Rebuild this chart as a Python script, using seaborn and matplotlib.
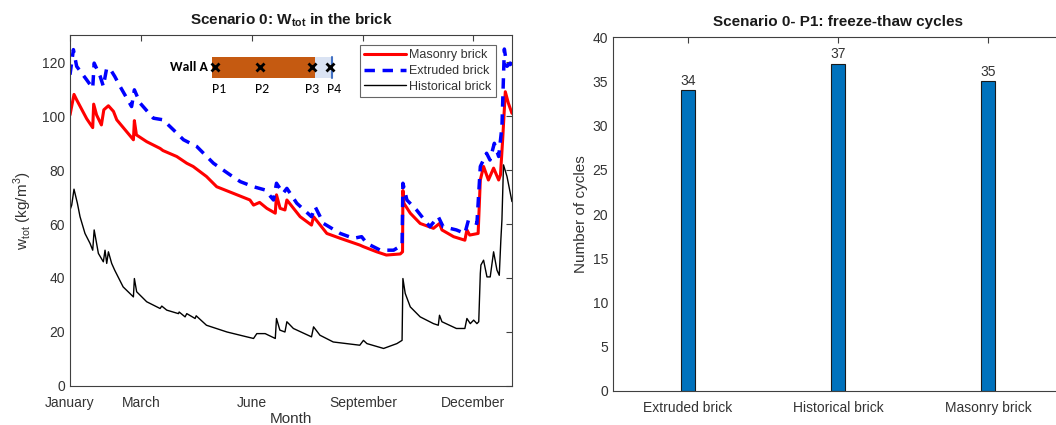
import matplotlib
matplotlib.use("Agg")
import matplotlib.pyplot as plt
import numpy as np
import pandas as pd
import seaborn as sns
from matplotlib.patches import Rectangle
from matplotlib.lines import Line2D

sns.set_theme(style="white")
plt.rcParams["font.family"] = ["Liberation Sans", "DejaVu Sans"]
plt.rcParams["mathtext.fontset"] = "custom"
plt.rcParams["mathtext.rm"] = "Liberation Sans"
plt.rcParams["mathtext.bf"] = "Liberation Sans:bold"

# ---- total moisture content through the year (day of year, kg/m3) ----
masonry_day = [0, 3.3, 5.5, 13.8, 18.8, 19.6, 22, 26, 28, 31.8, 36, 38.7, 52.5, 53.3, 55,
               63.5, 74.6, 77, 88.4, 96.7, 102, 113, 121.5, 135, 149, 152, 157, 163, 170,
               171, 174, 178, 179.6, 190.6, 200, 201.7, 212.7, 223.8, 240, 243, 254, 262,
               273.5, 275.4, 275.7, 276.5, 281.8, 290, 301, 306, 308, 317.7, 327, 328.7,
               331, 338, 339.8, 342.5, 346.5, 350.8, 355, 356.5, 358.3, 360.5, 363, 366]
masonry_val = [100.4, 108, 106, 99, 95.7, 104.4, 100.4, 96.7, 102.3, 103.8, 101.7, 98.6, 91.2,
               98.3, 93, 90.5, 88, 87.2, 85, 82.5, 81.3, 77.6, 73.8, 71.4, 68.9, 67, 68, 65.8,
               64, 70.8, 65.8, 65.2, 68.9, 62.7, 59.6, 62.7, 56.5, 54.7, 52.2, 51.6, 49.7, 48.5,
               48.9, 49.7, 72.4, 67.7, 64, 60.2, 58.4, 60.2, 57.8, 55.3, 54, 57.8, 55.9, 56.5,
               76.3, 81.3, 76.3, 80.7, 76.3, 78.2, 91.2, 109, 104.8, 101]

extruded_day = [0, 2.8, 5.5, 13.8, 18.8, 20, 25, 27.6, 30.4, 34.5, 37, 41.4, 51, 53.3, 58,
                69, 77, 85.6, 94, 105, 118.8, 132.6, 141, 152, 161.6, 168.5, 171, 176.5,
                179.6, 187.8, 200, 203, 210, 223.8, 234.8, 241.5, 245.9, 257, 268, 275,
                275.7, 279, 287, 298, 305, 309, 320, 327, 330, 337, 339.8, 345, 347.8,
                351.4, 355, 357.7, 359.7, 361.9, 364.6, 366]
extruded_val = [115.3, 124.6, 118.4, 113.4, 110.3, 119.6, 114.7, 111, 117.8, 116.5, 114.7,
                111, 103.5, 109.7, 104.8, 99.2, 98.6, 94.9, 91.2, 88.7, 82.5, 78.2, 75.7,
                73.8, 72.6, 68.9, 75.1, 71.4, 73.2, 67.7, 62.7, 66.4, 60.2, 56.5, 54.7, 55.3,
                52.8, 50.3, 50.3, 52.2, 75.1, 68.9, 65.2, 59, 62.7, 59, 57.8, 56.5, 61.5,
                60.2, 81.3, 86.2, 83.7, 89.9, 85, 96, 124.8, 118.4, 119.6, 118.4]

historical_day = [0, 1.4, 3.3, 6.1, 8.3, 12.4, 16.6, 18.8, 20, 23.5, 27.6, 29, 30.4, 31.8,
                  34.5, 37, 44, 52.5, 53.3, 55.2, 63.5, 74.6, 76, 80.1, 89.8, 90.4, 95.3,
                  96.7, 103.6, 104.5, 113, 130, 146.4, 152, 154.7, 161.6, 170, 171, 173.8,
                  178, 179.6, 185, 200, 201.7, 207, 218, 240, 243, 245.9, 259.7, 270.7, 275,
                  275.7, 277.6, 281.8, 290, 301, 305, 306, 308, 320, 327, 328.7, 331.5, 334.3,
                  337, 338.5, 339.8, 340.3, 342.5, 345.3, 348, 350.8, 353.6, 355.5, 356.8,
                  357.7, 359, 361.9, 366]
historical_val = [65.2, 67, 72.9, 67.7, 62.7, 56.5, 52.8, 50.3, 57.8, 49.1, 46, 50.3, 45.4,
                  49.7, 45.4, 42.9, 36.7, 33, 39.8, 34.9, 31.2, 28.7, 29.6, 28.1, 26.8, 27.4,
                  25.6, 26.8, 25, 26, 22.5, 20, 18.2, 17.6, 19.4, 19.4, 17.6, 25, 20.7, 20,
                  23.8, 21.3, 18.2, 21.9, 18.8, 16.3, 15.1, 16.9, 15.7, 13.9, 15.7, 16.9, 39.8,
                  34.3, 29.3, 25.6, 23.1, 22.5, 26.2, 23.8, 21.3, 21.3, 25, 23.1, 24.4, 23.1,
                  23.8, 41.7, 44.8, 46.6, 40.4, 40.4, 49.7, 42.9, 41, 54, 61.5, 81.9, 77.6, 68.3]

month_ticks = [0, 59, 151, 243, 334]
month_labels = ["January", "March", "June", "September", "December"]

# ---- freeze-thaw cycle counts at P1 ----
brick_types = ["Extruded brick", "Historical brick", "Masonry brick"]
cycles = [34, 37, 35]

TXT = "#333333"
SPINE = "#404040"

fig = plt.figure(figsize=(10.56, 4.25), dpi=100)
ax1 = fig.add_axes([0.0663, 0.0918, 0.4185, 0.8258])
ax2 = fig.add_axes([0.5805, 0.0800, 0.4261, 0.8329])


def matlab_box(ax):
    for s in ax.spines.values():
        s.set_visible(True)
        s.set_color(SPINE)
        s.set_linewidth(0.8)
    ax.tick_params(direction="in", top=True, right=True, length=4, width=0.8,
                   colors=SPINE, labelcolor=TXT, labelsize=10)
    ax.grid(False)


# left panel: moisture content curves
sns.lineplot(x=masonry_day, y=masonry_val, ax=ax1, color="#ff0000", linewidth=2.2,
             estimator=None, sort=False)
sns.lineplot(x=extruded_day, y=extruded_val, ax=ax1, color="#0000ff", linewidth=2.5,
             linestyle=(0, (3, 2.2)), estimator=None, sort=False)
sns.lineplot(x=historical_day, y=historical_val, ax=ax1, color="black", linewidth=1.0,
             estimator=None, sort=False)

ax1.set_xlim(0, 366)
ax1.set_ylim(0, 130)
ax1.set_xticks(month_ticks)
ax1.set_xticklabels(month_labels)
ax1.set_yticks(np.arange(0, 121, 20))
matlab_box(ax1)
ax1.tick_params(axis="x", pad=7)
ax1.set_title(r"Scenario 0: W$_{\mathbf{tot}}$ in the brick", fontsize=11,
              fontweight="bold", color="#1a1a1a", pad=8)
ax1.set_xlabel("Month", fontsize=11, color=TXT, labelpad=2)
ax1.set_ylabel(r"w$_{\rm tot}$ (kg/m$^3$)", fontsize=11, color=TXT, labelpad=6)

handles = [Line2D([], [], color="#ff0000", lw=2.2),
           Line2D([], [], color="#0000ff", lw=2.5, ls=(0, (3, 2.2))),
           Line2D([], [], color="black", lw=1.0)]
leg = ax1.legend(handles, ["Masonry brick", "Extruded brick", "Historical brick"],
                 loc="upper right", bbox_to_anchor=(0.963, 0.972), fontsize=9,
                 frameon=True, fancybox=False, handlelength=3.4, handletextpad=0.2,
                 borderpad=0.35, labelspacing=0.3, borderaxespad=0)
leg.get_frame().set_edgecolor(SPINE)
leg.get_frame().set_linewidth(0.8)
for t in leg.get_texts():
    t.set_color(TXT)

# wall section sketch with the four probe points
tr = ax1.transAxes
ax1.add_patch(Rectangle((0.3206, 0.877), 0.2334, 0.06, transform=tr,
                        facecolor="#C55A11", edgecolor="none", zorder=5))
ax1.add_patch(Rectangle((0.554, 0.877), 0.041, 0.06, transform=tr,
                        facecolor="#DAE3F3", edgecolor="none", zorder=5))
ax1.plot([0.593, 0.593], [0.877, 0.937], transform=tr, color="#4472C4", lw=1.5, zorder=6)
for xp, lab, xl in [(0.328, "P1", 0.337), (0.430, "P2", 0.434),
                    (0.5475, "P3", 0.548), (0.588, "P4", 0.597)]:
    ax1.plot([xp], [0.909], transform=tr, marker="x", color="black", ms=5.5, mew=2,
             zorder=7)
    ax1.text(xl, 0.845, lab, transform=tr, ha="center", va="center", fontsize=10,
             color="black", family=["Carlito", "Liberation Sans", "DejaVu Sans"])
ax1.text(0.311, 0.909, "Wall A", transform=tr, ha="right", va="center", fontsize=10,
         fontweight="bold", color="black",
         family=["Carlito", "Liberation Sans", "DejaVu Sans"])

# right panel: freeze-thaw cycles
bar_df = pd.DataFrame({"brick": brick_types, "cycles": cycles})
sns.barplot(data=bar_df, x="brick", y="cycles", ax=ax2, color="#0072BD", width=0.095,
            edgecolor="#1a1a1a", linewidth=0.8, saturation=1)
ax2.set_xlim(-0.5, 2.5)
ax2.set_ylim(0, 40)
ax2.set_yticks(np.arange(0, 41, 5))
matlab_box(ax2)
for i, v in enumerate(cycles):
    ax2.text(i, v + 0.25, str(v), ha="center", va="bottom", fontsize=10, color=TXT)
ax2.set_title("Scenario 0- P1: freeze-thaw cycles", fontsize=11, fontweight="bold",
              color="#1a1a1a", pad=8)
ax2.set_xlabel("")
ax2.set_ylabel("Number of cycles", fontsize=11, color=TXT, labelpad=3)
ax2.tick_params(axis="x", pad=7)

fig.savefig("out.png", dpi=100)
